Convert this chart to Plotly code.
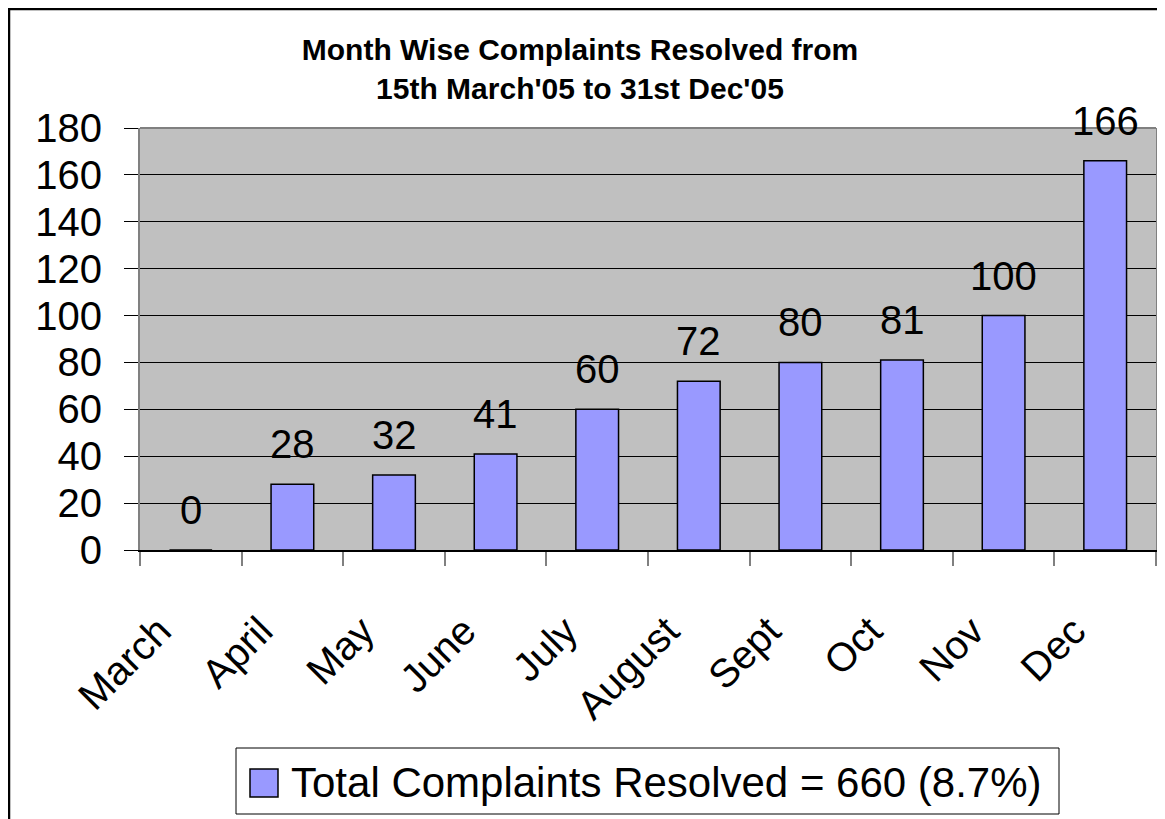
import plotly.graph_objects as go

# Chart data
months = ["March", "April", "May", "June", "July", "August", "Sept", "Oct", "Nov", "Dec"]
resolved = [0, 28, 32, 41, 60, 72, 80, 81, 100, 166]
y_ticks = [0, 20, 40, 60, 80, 100, 120, 140, 160, 180]
title_lines = ["Month Wise Complaints Resolved from", "15th March'05 to 31st Dec'05"]
legend_label = "Total Complaints Resolved = 660 (8.7%)"

# the page puts the figure 8px in from the top-left corner
OFF = 8
W, H = 1165, 819
ML, MT = 140 - OFF, 128 - OFF
MR = W - (1156 - OFF)
MB = H - (550 - OFF)
PW, PH = W - ML - MR, H - MT - MB


def px_x(x):
    # screen pixel -> paper x
    return (x - OFF - ML) / PW


def px_y(y):
    # screen pixel -> paper y
    return (H - MB - (y - OFF)) / PH


FONT = "Arial, Liberation Sans, sans-serif"
PAD = "\u00a0" * 4  # pushes rotated labels down-left, like the original

bars = go.Bar(
    x=months,
    y=resolved,
    marker=dict(color="#9999FF", line=dict(color="black", width=1.5)),
    showlegend=False,
    hoverinfo="x+y",
)

fig = go.Figure(data=[bars])

# value labels above each bar
for m, v in zip(months, resolved):
    fig.add_annotation(
        x=m, y=v, text=str(v), showarrow=False,
        yanchor="bottom", yshift=16,
        font=dict(size=40, color="black", family=FONT),
    )

shapes = [
    # outer frame (only left and top visible)
    dict(type="rect", xref="paper", yref="paper",
         x0=px_x(OFF + 1), x1=px_x(1180), y0=px_y(840), y1=px_y(OFF + 1),
         line=dict(color="black", width=2.5), layer="below"),
    # top edge of plot area
    dict(type="line", xref="paper", yref="paper", x0=0, x1=1, y0=1, y1=1,
         line=dict(color="#808080", width=2), layer="above"),
    # legend box
    dict(type="rect", xref="paper", yref="paper",
         x0=px_x(236), x1=px_x(1059), y0=px_y(814), y1=px_y(748),
         line=dict(color="black", width=1), fillcolor="white"),
    # legend swatch
    dict(type="rect", xref="paper", yref="paper",
         x0=px_x(250), x1=px_x(278), y0=px_y(797), y1=px_y(769),
         line=dict(color="black", width=1.5), fillcolor="#9999FF"),
]

fig.add_annotation(
    xref="paper", yref="paper", x=px_x(289), y=px_y(782),
    xanchor="left", yanchor="middle", showarrow=False,
    text=legend_label, font=dict(size=42, color="black", family=FONT),
)

fig.update_layout(
    width=W, height=H,
    margin=dict(l=ML, r=MR, t=MT, b=MB),
    paper_bgcolor="white",
    plot_bgcolor="#C0C0C0",
    bargap=0.58,
    shapes=shapes,
    title=dict(
        text="<br>".join(title_lines),
        x=(580 - OFF) / W, xref="container", xanchor="center",
        y=1 - (60 - OFF) / H, yref="container", yanchor="middle",
        font=dict(size=30, color="black", family=FONT, weight="bold"),
    ),
    font=dict(family=FONT, color="black"),
    showlegend=False,
)

fig.update_xaxes(
    tickangle=-45,
    tickvals=months,
    ticktext=[m + PAD for m in months],
    tickfont=dict(size=40, color="black", family=FONT),
    tickson="boundaries",
    ticks="outside", ticklen=14, tickcolor="#808080", tickwidth=2,
    showline=True, linecolor="black", linewidth=2,
    showgrid=False,
    ticklabelstandoff=8,
)

fig.update_yaxes(
    range=[0, 180],
    tickvals=y_ticks,
    tickfont=dict(size=40, color="black", family=FONT),
    ticks="outside", ticklen=14, tickcolor="black", tickwidth=1,
    showgrid=True, gridcolor="black", gridwidth=1,
    zeroline=False,
    showline=True, linecolor="#808080", linewidth=2, mirror=True,
    ticklabelstandoff=14,
)

fig.write_html("out.html")
